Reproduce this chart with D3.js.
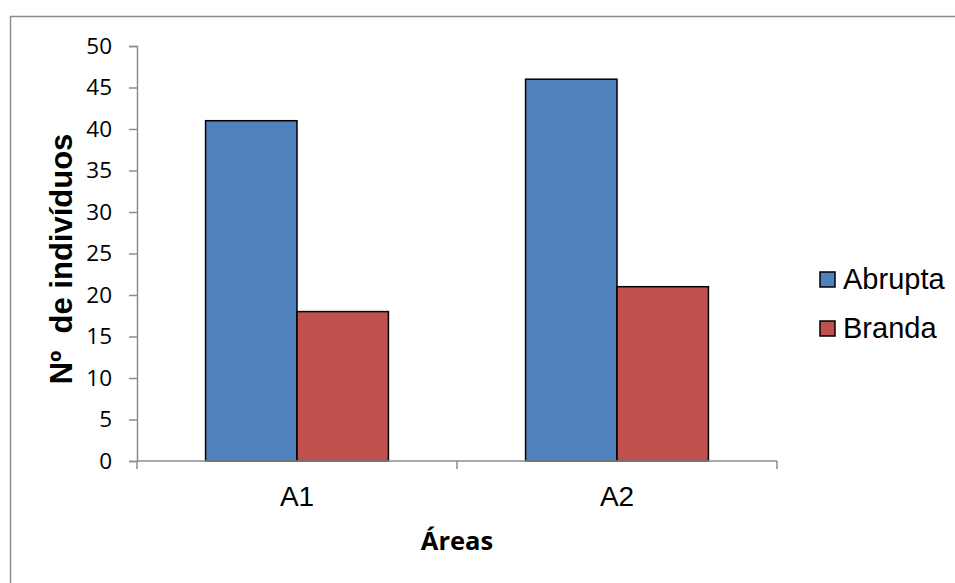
<!DOCTYPE html>
<html><head><meta charset="utf-8">
<script src="https://cdn.jsdelivr.net/npm/d3@7"></script>
<style>body{margin:0;background:#fff}svg{display:block}</style>
</head><body>
<script>
const categories = ["A1", "A2"];
const seriesNames = ["Abrupta", "Branda"];
const abrupta = [41, 46];
const branda = [18, 21];
const yTicks = [0, 5, 10, 15, 20, 25, 30, 35, 40, 45, 50];
const colors = ["#4F81BD", "#C0504D"];

const W = 955, H = 583;
const svg = d3.select("body").append("svg").attr("width", W).attr("height", H);

// outer frame
svg.append("path").attr("d", `M10.5,${H+5} L10.5,16.5 L${W+5},16.5`)
  .attr("fill", "none").attr("stroke", "#8c8c8c").attr("stroke-width", 1.5);

const x0 = 137, x1 = 777, y0 = 461, y1 = 46;
const x = d3.scaleBand().domain(categories).range([x0, x1]).paddingInner(0).paddingOuter(0);
const inner = d3.scaleBand().domain(seriesNames).range([0, x.bandwidth()]).paddingOuter(0.75).paddingInner(0);
const y = d3.scaleLinear().domain([0, 50]).range([y0, y1]);

const data = categories.map((c, i) => ({cat: c, vals: [abrupta[i], branda[i]]}));

// bars
const g = svg.append("g");
data.forEach(d => {
  d.vals.forEach((v, j) => {
    g.append("rect")
      .attr("x", x(d.cat) + inner(seriesNames[j]))
      .attr("y", y(v))
      .attr("width", inner.bandwidth())
      .attr("height", y(0) - y(v))
      .attr("fill", colors[j])
      .attr("stroke", "#000").attr("stroke-width", 1.5);
  });
});

// y axis
const yAxis = d3.axisLeft(y).tickValues(yTicks).tickSize(8).tickPadding(17);
const ya = svg.append("g").attr("transform", `translate(${x0},0)`).call(yAxis);
ya.select(".domain").attr("stroke", "#8c8c8c").attr("stroke-width", 1.5);
ya.selectAll(".tick line").attr("stroke", "#8c8c8c").attr("stroke-width", 1.5);
ya.selectAll(".tick text").attr("font-family", "'Open Sans', sans-serif").attr("font-size", 22.5).attr("fill", "#000");

// x axis
const xa = svg.append("g").attr("transform", `translate(0,${y0})`);
xa.append("line").attr("x1", x0).attr("x2", x1).attr("y1", 0).attr("y2", 0)
  .attr("stroke", "#8c8c8c").attr("stroke-width", 1.5);
const bounds = categories.map(c => x(c)).concat([x(categories[categories.length-1]) + x.bandwidth()]);
xa.selectAll("line.tk").data(bounds).join("line").attr("class", "tk")
  .attr("x1", d => d).attr("x2", d => d).attr("y1", 0).attr("y2", 8)
  .attr("stroke", "#8c8c8c").attr("stroke-width", 1.5);
xa.selectAll("text").data(categories).join("text")
  .attr("x", d => x(d) + x.bandwidth()/2).attr("y", 45)
  .attr("text-anchor", "middle")
  .attr("font-family", "'Liberation Sans', Arial, sans-serif").attr("font-size", 28)
  .text(d => d);

// axis titles
svg.append("text").attr("transform", "translate(72,259) rotate(-90)")
  .attr("text-anchor", "middle")
  .attr("font-family", "'Liberation Sans', Arial, sans-serif").attr("font-weight", "bold").attr("font-size", 31)
  .attr("xml:space", "preserve")
  .text("Nº  de indivíduos");
svg.append("text").attr("x", 457).attr("y", 550).attr("text-anchor", "middle")
  .attr("font-family", "'Open Sans', sans-serif").attr("font-weight", "bold").attr("font-size", 25.5)
  .text("Áreas");

// legend
const lg = svg.append("g");
seriesNames.forEach((s, i) => {
  lg.append("rect").attr("x", 820).attr("y", 272 + i*49).attr("width", 15).attr("height", 15)
    .attr("fill", colors[i]).attr("stroke", "#000").attr("stroke-width", 1.5);
  lg.append("text").attr("x", 843).attr("y", 289 + i*49)
    .attr("font-family", "'Liberation Sans', Arial, sans-serif").attr("font-size", 29)
    .text(s);
});
</script>
</body></html>
